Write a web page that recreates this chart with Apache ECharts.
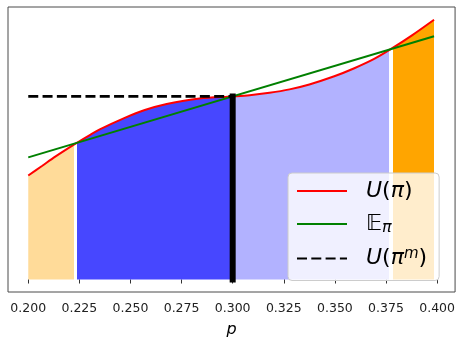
<!DOCTYPE html>
<html>
<head>
<meta charset="utf-8">
<script src="https://cdn.jsdelivr.net/npm/echarts@6/dist/echarts.min.js"></script>
<style>
  html, body { margin: 0; padding: 0; background: #ffffff; }
  #chart { width: 458px; height: 343px; }
</style>
</head>
<body>
<div id="chart"></div>
<script>
// Utility curve U(pi) sampled over the price p
const pValues = [0.2000, 0.2067, 0.2132, 0.2233, 0.2301, 0.2350, 0.2472, 0.2570, 0.2677, 0.2838,
                 0.3000, 0.3083, 0.3180, 0.3278, 0.3375, 0.3497, 0.3595, 0.3692, 0.3773, 0.3879, 0.3985];
const utility = [1.058, 1.155, 1.250, 1.385, 1.470, 1.528, 1.645, 1.725, 1.787, 1.843,
                 1.863, 1.875, 1.900, 1.935, 1.985, 2.068, 2.150, 2.245, 2.344, 2.487, 2.643];

// Expected utility line E_pi (straight chord)
const expectedP = [0.2000, 0.3985];
const expectedU = [1.243, 2.476];

// Reference level U(pi^m) drawn up to the mode
const monopolyP = [0.2000, 0.3000];
const monopolyU = [1.863, 1.863];

// Mode position and its utility (vertical marker)
const modeP = [0.3000, 0.3000];
const modeU = [0.0, 1.863];

// Shaded intervals under the curve
const regionStart = [0.2000, 0.2239, 0.3000, 0.3784];
const regionEnd   = [0.2224, 0.3000, 0.3767, 0.3985];

// Tick labels of the p axis
const pTicks = [0.200, 0.225, 0.250, 0.275, 0.300, 0.325, 0.350, 0.375, 0.400];

const legendNames = ['U(π)', '𝔼π', 'U(πm)'];

const zip = (xs, ys) => xs.map((x, i) => [x, ys[i]]);

const regionColors = ['rgba(255,165,0,0.4)', 'rgba(0,0,255,0.72)', 'rgba(0,0,255,0.3)', 'rgba(255,165,0,1)'];

const font = 'DejaVu Sans';
const chart = echarts.init(document.getElementById('chart'), null, { renderer: 'canvas' });

const legendText = {};
legendText[legendNames[0]] = '{it|U}{n|(}{it|π}{n|)}';
legendText[legendNames[1]] = '{bb|𝔼}{sub|π}';
legendText[legendNames[2]] = '{it|U}{n|(}{it|π}{sup|m}{n|)}';

const option = {
  animation: false,
  backgroundColor: '#ffffff',
  grid: {
    left: 8, right: 2, top: 7, bottom: 46,
    show: true, borderColor: '#4a4a4a', borderWidth: 1, backgroundColor: 'transparent'
  },
  xAxis: {
    type: 'value',
    min: 0.19009, max: 0.40879,
    name: 'p',
    nameLocation: 'middle',
    nameGap: 30,
    nameTextStyle: { fontFamily: font, fontStyle: 'italic', fontSize: 16, color: '#000' },
    axisLine: { show: false },
    splitLine: { show: false },
    axisTick: { show: true, length: 4, lineStyle: { color: '#333' }, customValues: pTicks },
    axisLabel: {
      customValues: pTicks,
      margin: 10,
      fontFamily: font, fontSize: 12.5, color: '#222',
      formatter: v => v.toFixed(3)
    }
  },
  yAxis: {
    type: 'value',
    min: -0.127, max: 2.773,
    axisLine: { show: false },
    axisTick: { show: false },
    axisLabel: { show: false },
    splitLine: { show: false }
  },
  visualMap: {
    show: false,
    type: 'piecewise',
    seriesIndex: 0,
    dimension: 0,
    pieces: regionStart.map((s, i) => ({ gte: s, lt: regionEnd[i] + (i === 1 ? 0 : 1e-6), color: regionColors[i] })),
    outOfRange: { color: 'rgba(255,255,255,0)' }
  },
  legend: {
    data: legendNames,
    orient: 'vertical',
    left: 288, top: 173,
    itemWidth: 50, itemHeight: 14,
    itemGap: 11,
    padding: [7, 12, 11, 8],
    backgroundColor: 'rgba(255,255,255,0.8)',
    borderColor: '#cccccc', borderWidth: 1, borderRadius: 4,
    itemStyle: { color: 'rgba(0,0,0,0)', borderWidth: 0, opacity: 0 },
    formatter: name => legendText[name],
    textStyle: {
      fontFamily: font, fontSize: 22, color: '#000',
      padding: [0, 0, 0, 14],
      rich: {
        it: { fontFamily: font, fontStyle: 'italic', fontSize: 22, color: '#000' },
        n: { fontFamily: font, fontSize: 22, color: '#000' },
        bb: { fontFamily: font, fontSize: 22, color: '#000' },
        sub: { fontFamily: font, fontStyle: 'italic', fontSize: 16, color: '#000', verticalAlign: 'bottom', padding: [8, 0, 0, 0] },
        sup: { fontFamily: font, fontStyle: 'italic', fontSize: 15, color: '#000', verticalAlign: 'top', padding: [0, 0, 8, 0] }
      }
    }
  },
  series: [
    {
      name: 'area',
      type: 'line',
      data: zip(pValues, utility),
      smooth: 0.3,
      symbol: 'none',
      silent: true,
      lineStyle: { width: 0 },
      areaStyle: { opacity: 1 },
      z: 1
    },
    {
      name: legendNames[0],
      type: 'line',
      data: zip(pValues, utility),
      smooth: 0.3,
      symbol: 'none',
      lineStyle: { color: '#ff0000', width: 2 },
      itemStyle: { color: '#ff0000' },
      z: 3
    },
    {
      name: legendNames[1],
      type: 'line',
      data: zip(expectedP, expectedU),
      symbol: 'none',
      lineStyle: { color: '#008000', width: 2 },
      itemStyle: { color: '#008000' },
      z: 4
    },
    {
      name: legendNames[2],
      type: 'line',
      data: zip(monopolyP, monopolyU),
      symbol: 'none',
      lineStyle: { color: '#000000', width: 2.7, type: [10, 4.3] },
      itemStyle: { color: '#000000' },
      z: 4
    },
    {
      name: 'mode',
      type: 'line',
      data: zip(modeP, modeU),
      symbol: 'none',
      lineStyle: { color: '#000000', width: 6, cap: 'square' },
      z: 5
    }
  ]
};

chart.setOption(option);
</script>
</body>
</html>
